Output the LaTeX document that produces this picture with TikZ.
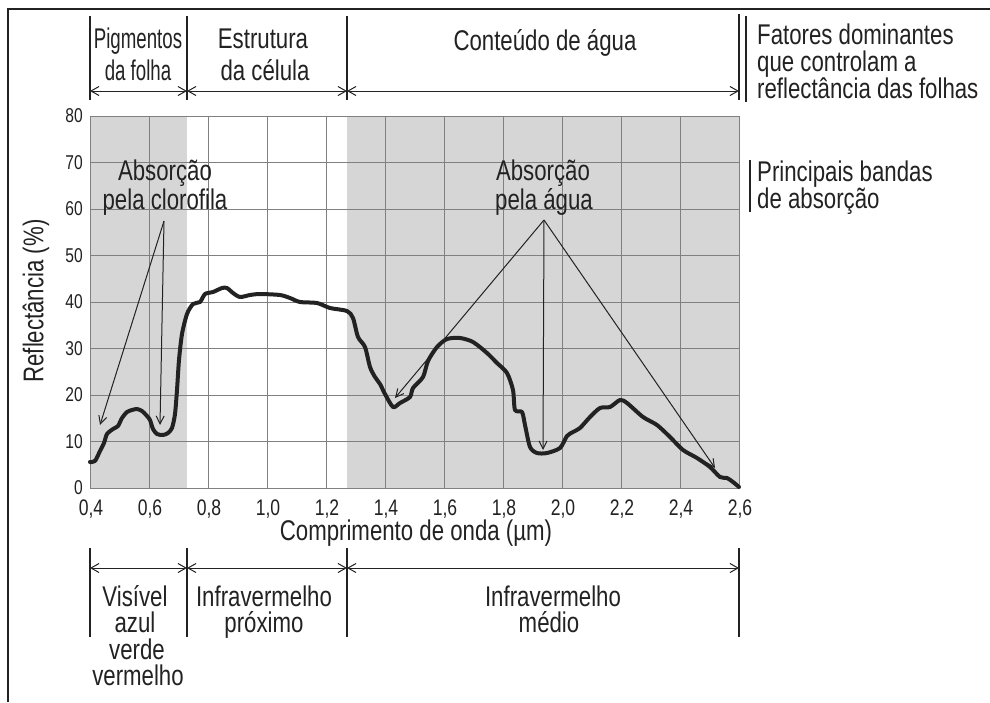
\documentclass[tikz,border=0pt]{standalone}
\usepackage{fontspec}
\usepackage{graphicx}
\setmainfont{Liberation Sans}[FakeStretch=0.78]
\usetikzlibrary{arrows.meta}
\definecolor{ink}{HTML}{222222}
\definecolor{bandgray}{HTML}{D6D6D6}
\definecolor{gridgray}{HTML}{808080}
\begin{document}
\begin{tikzpicture}[x=1pt,y=-1pt,
  lbl/.style={text=ink,inner sep=0pt,font=\fontsize{28.5}{30}\selectfont},
  ytk/.style={text=ink,inner sep=0pt,font=\fontsize{20}{21}\selectfont,anchor=east},
  xtk/.style={text=ink,inner sep=0pt,font=\fontsize{22.5}{24}\selectfont,anchor=base},
  gridl/.style={draw=gridgray,line width=0.9pt},
  band/.style={fill=bandgray},
  curve/.style={draw=ink,line width=4pt,line join=round,line cap=round},
  ann/.style={draw=ink,line width=1pt,-{Straight Barb[length=8pt,width=8pt]}},
  dimarrow/.style={draw=ink,line width=1pt,{Straight Barb[length=8pt,width=9pt]}-{Straight Barb[length=8pt,width=9pt]}},
  divl/.style={draw=ink,line width=1.2pt},
  legbar/.style={draw=ink,line width=1.4pt}
]
\useasboundingbox (0,0) rectangle (990,702);
\fill[white] (0,0) rectangle (990,702);
% frame
\draw[ink,line width=1.8pt] (8,702) -- (8,9) -- (990,9);

% absorption bands
\fill[band] (90,116) rectangle (187,488);
\fill[band] (347,116) rectangle (739,488);

% grid
\foreach \i in {0,...,11} \draw[gridl] ({90+59*\i},116) -- ({90+59*\i},488);
\foreach \j in {0,...,8} \draw[gridl] (90,{488-46.5*\j}) -- (739,{488-46.5*\j});

% y tick labels
\foreach \j/\l in {0/0,1/10,2/20,3/30,4/40,5/50,6/60,7/70,8/80}
  \node[ytk] (yt\j) at (83,{488-46.5*\j}) {\l};
% x tick labels
\foreach \i/\l in {0/{0,4},1/{0,6},2/{0,8},3/{1,0},4/{1,2},5/{1,4},6/{1,6},7/{1,8},8/{2,0},9/{2,2},10/{2,4},11/{2,6}}
  \node[xtk] (xt\i) at ({91+59*\i},515) {\l};

% axis titles
\node[lbl,rotate=90] (ylab) at (36,301) {Reflectância (\%)};
\node[lbl,anchor=base] (xlab) at (416,540) {Comprimento de onda (µm)};

% spectral curve
\draw[curve] plot[smooth,tension=0.45] coordinates {
(90,462) (95,461) (100,451) (104,443) (107,434) (113,429) (118,426) (122,418)
(127,412) (132,410) (137,409) (142,411) (147,416) (150,420) (153,429) (157,434)
(163,435) (168,433) (172,428) (175,414) (177,390) (179,360) (182,334) (187,314)
(193,304) (200,302) (205,294) (213,292) (222,288) (227,288) (233,293) (240,297)
(250,295) (260,294) (280,295) (290,298) (300,302) (317,303) (330,308) (347,311)
(353,318) (358,337) (365,347) (370,367) (375,377) (380,384) (385,394) (393,407)
(400,403) (410,397) (413,388) (423,377) (428,361) (437,347) (447,339) (460,338)
(473,342) (487,353) (497,363) (507,373) (513,390) (515,410) (522,412) (525,425)
(530,447) (537,453) (547,453) (560,448) (567,436) (573,432) (580,428) (590,417)
(600,408) (610,407) (620,400) (627,403) (643,417) (657,425) (670,437) (683,450)
(697,458) (710,467) (720,477) (727,478) (733,482) (739,487)};

% chlorophyll annotation
\node[lbl,anchor=base] (clA) at (165,180) {Absorção};
\node[lbl,anchor=base] (clB) at (165,209) {pela clorofila};
\coordinate (clApex) at (164,221);
\coordinate (clT1) at (100,425);
\coordinate (clT2) at (160,425);
\draw[ann] (clApex) -- (clT1);
\draw[ann] (clApex) -- (clT2);

% water annotation
\node[lbl,anchor=base] (waA) at (543,180) {Absorção};
\node[lbl,anchor=base] (waB) at (544,209) {pela água};
\coordinate (waApex) at (544,220);
\coordinate (waT1) at (395,398);
\coordinate (waT2) at (543,450);
\coordinate (waT3) at (715,468);
\draw[ann] (waApex) -- (waT1);
\draw[ann] (waApex) -- (waT2);
\draw[ann] (waApex) -- (waT3);

% legend: absorption bands
\draw[legbar] (750,160) -- (750,212);
\node[lbl,anchor=base west] (pbA) at (757,181) {Principais bandas};
\node[lbl,anchor=base west] (pbB) at (757,208) {de absorção};

% top dimension lines
\coordinate (t0a) at (90,16);  \coordinate (t0b) at (90,100);
\coordinate (t1a) at (187,16); \coordinate (t1b) at (187,100);
\coordinate (t2a) at (347,16); \coordinate (t2b) at (347,100);
\coordinate (t3a) at (739,14); \coordinate (t3b) at (739,100);
\draw[divl] (t0a) -- (t0b);
\draw[divl] (t1a) -- (t1b);
\draw[divl] (t2a) -- (t2b);
\draw[divl] (t3a) -- (t3b);
\coordinate (ta0) at (90,91); \coordinate (ta1) at (187,91);
\coordinate (ta2) at (347,91); \coordinate (ta3) at (739,91);
\draw[dimarrow] (ta0) -- (ta1);
\draw[dimarrow] (ta1) -- (ta2);
\draw[dimarrow] (ta2) -- (ta3);
\node[lbl,anchor=base] (pgA) at (138,48) {\scalebox{0.84}[1]{Pigmentos}};
\node[lbl,anchor=base] (pgB) at (138,80) {\scalebox{0.84}[1]{da folha}};
\node[lbl,anchor=base] (ecA) at (263,48) {Estrutura};
\node[lbl,anchor=base] (ecB) at (265,80) {da célula};
\node[lbl,anchor=base] (ca) at (545,50) {Conteúdo de água};

% legend: dominant factors
\draw[legbar] (746,16) -- (746,102);
\node[lbl,anchor=base west] (fdA) at (757,44) {Fatores dominantes};
\node[lbl,anchor=base west] (fdB) at (757,71) {que controlam a};
\node[lbl,anchor=base west] (fdC) at (757,98) {reflectância das folhas};

% bottom dimension lines
\coordinate (b0a) at (90,548);  \coordinate (b0b) at (90,637);
\coordinate (b1a) at (187,548); \coordinate (b1b) at (187,637);
\coordinate (b2a) at (347,548); \coordinate (b2b) at (347,637);
\coordinate (b3a) at (739,548); \coordinate (b3b) at (739,637);
\draw[divl] (b0a) -- (b0b);
\draw[divl] (b1a) -- (b1b);
\draw[divl] (b2a) -- (b2b);
\draw[divl] (b3a) -- (b3b);
\coordinate (ba0) at (90,568); \coordinate (ba1) at (187,568);
\coordinate (ba2) at (347,568); \coordinate (ba3) at (739,568);
\draw[dimarrow] (ba0) -- (ba1);
\draw[dimarrow] (ba1) -- (ba2);
\draw[dimarrow] (ba2) -- (ba3);
\node[lbl,anchor=base] (vsA) at (135,606) {Visível};
\node[lbl,anchor=base] (vsB) at (135,632) {azul};
\node[lbl,anchor=base] (vsC) at (137,659) {verde};
\node[lbl,anchor=base] (vsD) at (138,685) {vermelho};
\node[lbl,anchor=base] (ipA) at (264,606) {Infravermelho};
\node[lbl,anchor=base] (ipB) at (264,632) {próximo};
\node[lbl,anchor=base] (imA) at (553,606) {Infravermelho};
\node[lbl,anchor=base] (imB) at (549,632) {médio};
\end{tikzpicture}
\end{document}
